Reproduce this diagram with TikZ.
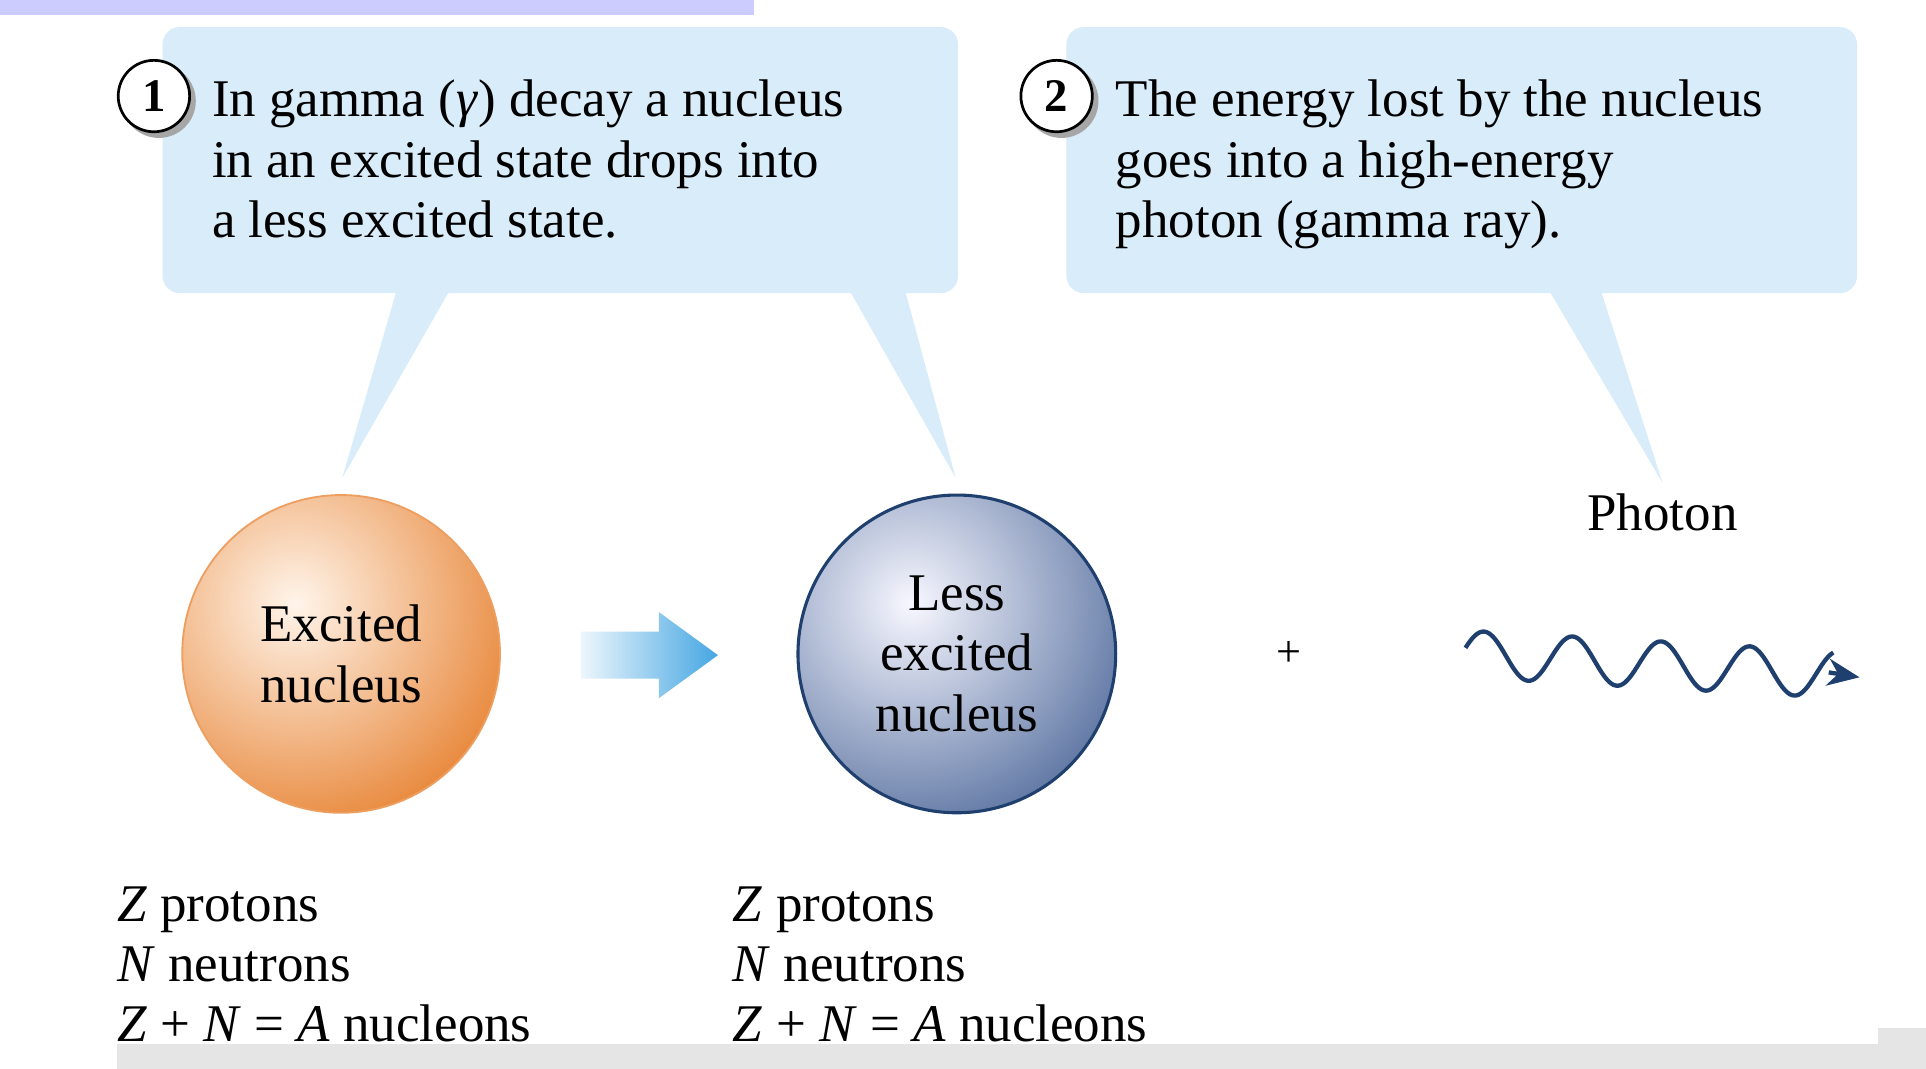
\documentclass[tikz,border=0pt]{standalone}
\usepackage{fontspec}
\setmainfont{Liberation Serif}
\usetikzlibrary{arrows.meta}
\definecolor{bub}{HTML}{D9ECF9}
\definecolor{navy}{HTML}{1F3F6E}
\definecolor{orng}{HTML}{E8873A}
\definecolor{bluegray}{HTML}{5E76A3}
\definecolor{arrb}{HTML}{45A6E2}
\tikzset{
  bubtext/.style={anchor=base west,font=\fontsize{43}{49}\selectfont,align=left,inner sep=0},
  lbl/.style={font=\fontsize{43}{49}\selectfont,align=center,inner sep=0},
  num/.style={circle,draw=black,line width=2.2pt,fill=white,minimum size=58pt,inner sep=0,font=\fontsize{38}{38}\selectfont\bfseries}
}
\begin{document}
\begin{tikzpicture}[x=1pt,y=-1pt]
\useasboundingbox (0,0) rectangle (1564,868);
\fill[white] (0,0) rectangle (1564,868);
\fill[blue!20!white] (0,0) rectangle (612,12);
\fill[black!10] (95,848) rectangle (1525,868);
\fill[black!10] (1525,835) rectangle (1564,868);
% bubbles
\fill[bub,rounded corners=14pt] (132,22) rectangle (778,238);
\fill[bub] (322,236) -- (365,236) -- (278,388) -- cycle;
\fill[bub] (690,236) -- (735,236) -- (776,388) -- cycle;
\fill[bub,rounded corners=14pt] (866,22) rectangle (1508,238);
\fill[bub] (1258,236) -- (1300,236) -- (1350,392) -- cycle;
\fill[black!35] (129,82) circle (30);
\node[num] (n1) at (125,78) {1};
\fill[black!35] (862,82) circle (30);
\node[num] (n2) at (858,78) {2};
\node[bubtext] (t1) at (172,193) {In gamma (\textit{γ}) decay a nucleus\\in an excited state drops into\\a less excited state.};
\node[bubtext] (t2) at (906,193) {The energy lost by the nucleus\\goes into a high-energy\\photon (gamma ray).};
% spheres
\begin{scope}
\clip (277,531) circle (129);
\shade[inner color=orange!8!white,outer color=orng] (240,490) circle (190);
\end{scope}
\draw[orng!80!white,line width=1.5pt] (277,531) circle (129);
\node[lbl] (ex) at (277,531) {Excited\\nucleus};
\begin{scope}
\clip (777,531) circle (129);
\shade[inner color=blue!3!white,outer color=bluegray] (740,490) circle (190);
\end{scope}
\draw[navy,line width=2.5pt] (777,531) circle (129);
\node[lbl] (le) at (777,531) {Less\\excited\\nucleus};
% arrow
\shade[left color=arrb!10!white,right color=arrb] (472,513) -- (535,513) -- (535,497) -- (583,532) -- (535,567) -- (535,551) -- (472,551) -- cycle;
\node[font=\fontsize{36}{36}\selectfont] (plus) at (1047,531) {+};
\node[lbl] (ph) at (1350,416) {Photon};
\coordinate (w1) at (1510,550);
\draw[navy,line width=3.5pt] plot[domain=0:4.15,samples=160,smooth] ({1190+\x*72},{531-19*sin(\x*360+15)+4*\x});
\draw[navy,line width=3.5pt,-{Stealth[length=26pt,width=22pt]}] (1485,546) -- (w1);
% bottom text
\node[bubtext] (b1) at (95,846) {\textit{Z} protons\\\textit{N} neutrons\\\textit{Z} + \textit{N} = \textit{A} nucleons};
\node[bubtext] (b2) at (595,846) {\textit{Z} protons\\\textit{N} neutrons\\\textit{Z} + \textit{N} = \textit{A} nucleons};
\end{tikzpicture}
\end{document}
